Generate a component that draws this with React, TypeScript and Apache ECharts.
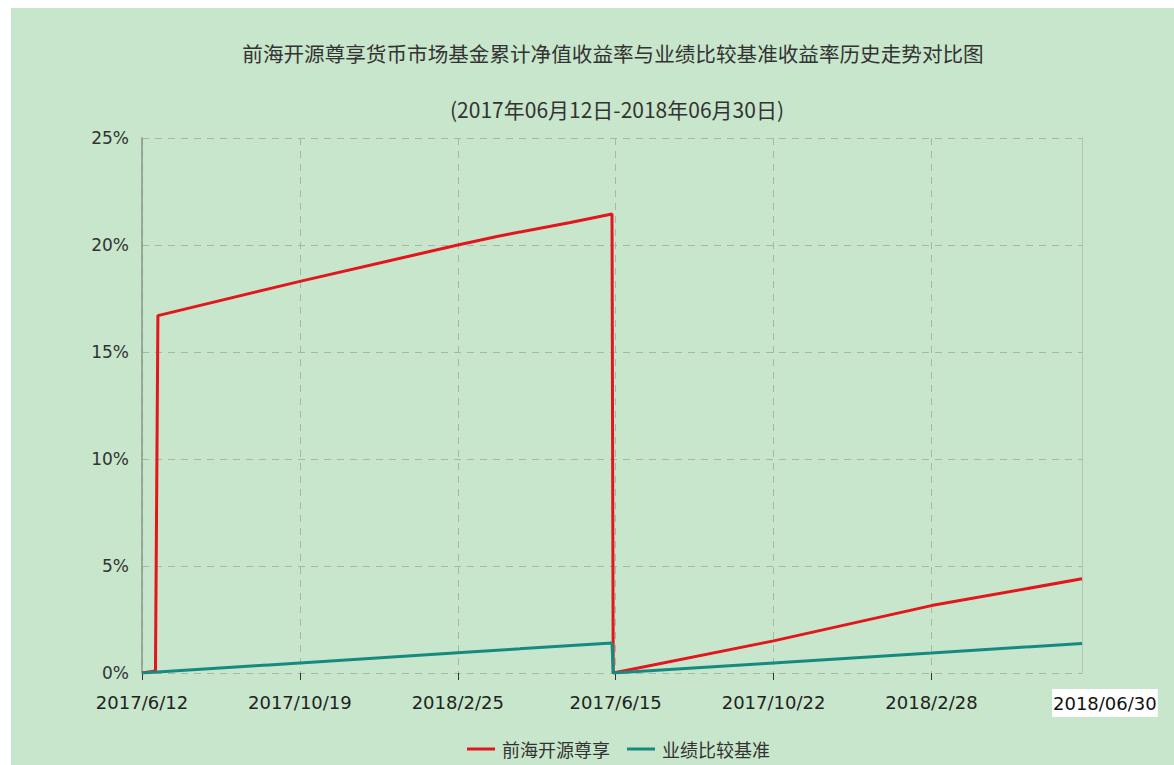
import React, { useEffect, useRef } from "react";
import * as echarts from "echarts";

const titleText = "前海开源尊享货币市场基金累计净值收益率与业绩比较基准收益率历史走势对比图";
const subTitleText = "(2017年06月12日-2018年06月30日)";
const endLabel = "2018/06/30";

const tickIndex = [0, 129, 258, 387, 516, 645];
const tickLabels = ["2017/6/12", "2017/10/19", "2018/2/25", "2017/6/15", "2017/10/22", "2018/2/28"];
const xMax = 768;

const seriesNames = ["前海开源尊享", "业绩比较基准"];

const fundIdx = [0, 11, 13, 129, 258, 290, 322, 350, 384, 385, 516, 645, 768];
const fundVal = [0, 0.1, 16.7, 18.3, 20.0, 20.4, 20.75, 21.05, 21.45, 0, 1.5, 3.15, 4.4];

const benchIdx = [0, 129, 258, 384, 385, 516, 645, 768];
const benchVal = [0, 0.47, 0.95, 1.4, 0, 0.47, 0.93, 1.38];

const yTicks = [0, 5, 10, 15, 20, 25];

export default function App() {
  const ref = useRef<HTMLDivElement>(null);
  useEffect(() => {
    if (!ref.current) return;
    const chart = echarts.init(ref.current, null, { renderer: "svg" });
    const font = "'Noto Sans CJK SC', 'DejaVu Sans', sans-serif";
    chart.setOption({
      animation: false,
      backgroundColor: "#c8e6cb",
      textStyle: { fontFamily: font },
      title: [
        {
          text: titleText,
          left: 597,
          top: 30,
          textAlign: "center",
          textStyle: { fontSize: 20.6, fontWeight: "normal", color: "#333", fontFamily: font },
        },
        {
          text: subTitleText,
          left: 601,
          top: 85,
          textAlign: "center",
          textStyle: { fontSize: 21, fontWeight: "normal", color: "#333", fontFamily: font },
        },
      ],
      legend: {
        bottom: 2,
        left: 451,
        icon: "rect",
        itemWidth: 28,
        itemHeight: 3,
        itemGap: 17,
        textStyle: { fontSize: 18, color: "#333", fontFamily: font, padding: [0, 0, 0, 2] },
        data: seriesNames,
      },
      grid: { left: 131, right: 92, top: 130, bottom: 92 },
      xAxis: {
        type: "value",
        min: 0,
        max: xMax,
        interval: 129,
        axisLine: { show: false },
        axisTick: {
          show: true,
          length: 7,
          lineStyle: { color: "#333" },
          customValues: tickIndex,
        },
        axisLabel: {
          customValues: tickIndex,
          margin: 20,
          fontSize: 18,
          color: "#222",
          fontFamily: "'DejaVu Sans', sans-serif",
          formatter: (v: number) => {
            const i = tickIndex.indexOf(v);
            return i >= 0 ? tickLabels[i] : "";
          },
        },
        splitLine: { show: true, lineStyle: { type: [7, 6], color: "#a9b5aa", width: 1 } },
      },
      yAxis: [
        {
          type: "value",
          min: yTicks[0],
          max: yTicks[yTicks.length - 1],
          interval: 5,
          axisLine: { show: true, lineStyle: { color: "#8a948b", width: 1.5 } },
          axisTick: { show: false },
          axisLabel: { formatter: "{value}%", fontSize: 17, color: "#333", margin: 13, fontFamily: "'DejaVu Sans', sans-serif" },
          splitLine: { show: true, lineStyle: { type: [7, 6], color: "#a9b5aa", width: 1 } },
        },
        {
          type: "value",
          position: "right",
          min: yTicks[0],
          max: yTicks[yTicks.length - 1],
          interval: 5,
          axisLine: { show: true, lineStyle: { color: "#b3c2b4", width: 1 } },
          axisTick: { show: false },
          axisLabel: { show: false },
          splitLine: { show: false },
        },
      ],
      graphic: [
        {
          type: "text",
          left: 1041,
          top: 681,
          style: {
            text: endLabel,
            fontSize: 18,
            fontFamily: "'DejaVu Sans', sans-serif",
            fill: "#111",
            backgroundColor: "#ffffff",
            padding: [5, 1, 5, 1],
          },
        },
      ],
      series: [
        {
          name: seriesNames[0],
          type: "line",
          symbol: "none",
          color: "#e3161c",
          lineStyle: { width: 3, color: "#e3161c" },
          data: fundIdx.map((x, i) => [x, fundVal[i]]),
        },
        {
          name: seriesNames[1],
          type: "line",
          symbol: "none",
          color: "#178a80",
          lineStyle: { width: 3, color: "#178a80" },
          data: benchIdx.map((x, i) => [x, benchVal[i]]),
        },
      ],
    });
    return () => chart.dispose();
  }, []);
  return (
    <div
      ref={ref}
      style={{ position: "fixed", left: 11, top: 8, width: 1163, height: 757 }}
    />
  );
}
